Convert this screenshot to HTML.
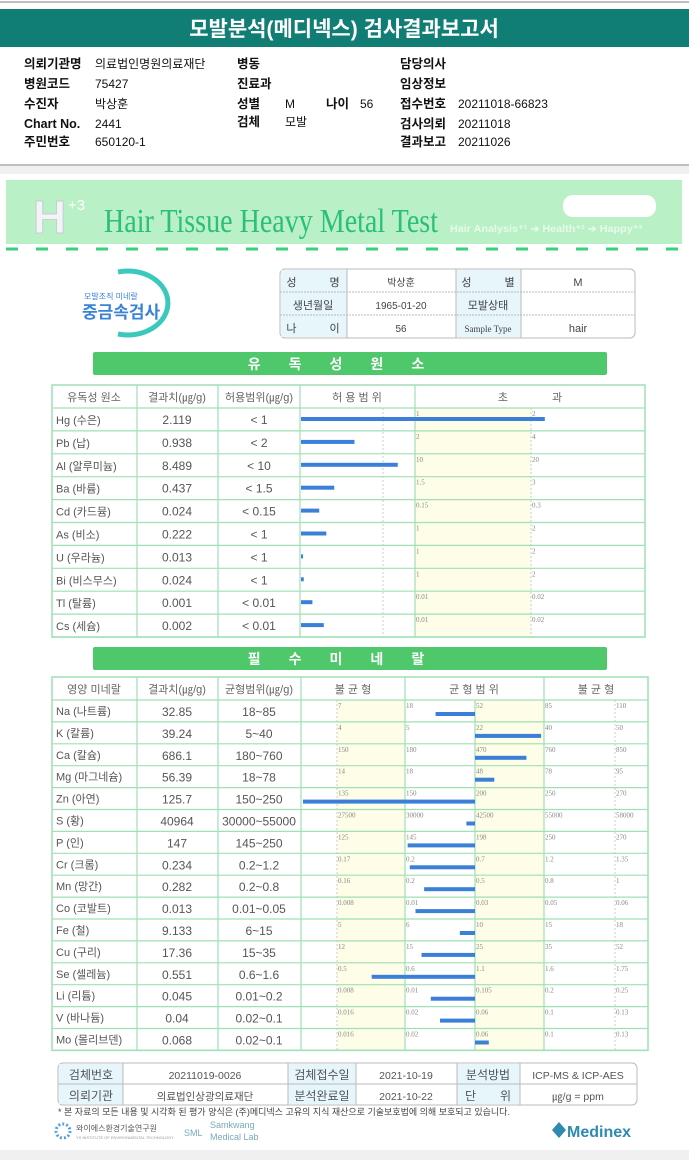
<!DOCTYPE html>
<html><head><meta charset="utf-8">
<style>
body{margin:0;width:689px;height:1160px;overflow:hidden;background:#fff;font-family:"Liberation Sans","Noto Sans CJK KR",sans-serif;}
svg{display:block}
</style></head>
<body>
<svg id="page" width="689" height="1160" viewBox="0 0 689 1160" xmlns="http://www.w3.org/2000/svg" font-family="Liberation Sans, Noto Sans CJK KR, sans-serif">
<rect x="0" y="0" width="689" height="1160" fill="#fff"/>
<line x1="0" y1="2" x2="689" y2="2" stroke="#aaa" stroke-width="1.5"/>
<rect x="0" y="9" width="689" height="38" fill="#117e75"/>
<text x="344" y="36" text-anchor="middle" fill="#fff" font-size="21" font-weight="bold">모발분석(메디넥스) 검사결과보고서</text>
<g font-size="12.5" fill="#111">
<g font-weight="bold">
<text x="24" y="68">의뢰기관명</text><text x="24" y="88">병원코드</text><text x="24" y="108">수진자</text><text x="24" y="128">Chart No.</text><text x="24" y="146">주민번호</text>
<text x="237" y="68">병동</text><text x="237" y="88">진료과</text><text x="237" y="108">성별</text><text x="237" y="126">검체</text><text x="326" y="108">나이</text>
<text x="400" y="68">담당의사</text><text x="400" y="88">임상정보</text><text x="400" y="108">접수번호</text><text x="400" y="128">검사의뢰</text><text x="400" y="146">결과보고</text>
</g>
<g font-size="12">
<text x="95" y="68">의료법인명원의료재단</text><text x="95" y="88">75427</text><text x="95" y="108">박상훈</text><text x="95" y="128">2441</text><text x="95" y="146">650120-1</text>
<text x="285" y="108">M</text><text x="285" y="126">모발</text><text x="360" y="108">56</text>
<text x="458" y="108">20211018-66823</text><text x="458" y="128">20211018</text><text x="458" y="146">20211026</text>
</g></g>
<line x1="0" y1="165" x2="689" y2="165" stroke="#aaa" stroke-width="1.5"/>
<rect x="0" y="166" width="689" height="8" fill="#f0f0f0"/>

<rect x="6" y="180" width="676" height="64" fill="#b9f0c6"/>
<line x1="6" y1="249" x2="682" y2="249" stroke="#3bd07a" stroke-width="3" stroke-dasharray="12,18"/>
<text x="33" y="233" font-size="46" font-weight="bold" fill="#f2f4f8" stroke="#c8ccd4" stroke-width="1">H</text>
<text x="68" y="210" font-size="15" fill="#fff">+3</text>
<text x="104" y="232" font-family="Liberation Serif, serif" font-size="34" fill="#2bbf79" textLength="334" lengthAdjust="spacingAndGlyphs">Hair Tissue Heavy Metal Test</text>
<text x="450" y="232" font-size="10" font-weight="bold" fill="#e6fbea" textLength="192" lengthAdjust="spacingAndGlyphs">Hair Analysis⁺¹ ➔ Health⁺² ➔ Happy⁺³</text>
<rect x="563" y="195" width="93" height="22" rx="10" fill="#fff"/>

<g>
<path d="M120,272 A40,32 0 1 1 120,334" fill="none" stroke="#3cc9bd" stroke-width="5" transform="translate(-2,0)"/>
<text x="84" y="299" font-size="8" fill="#3a83d8">모발조직 미네랄</text>
<text x="82" y="318" font-size="17" font-weight="bold" fill="#3a83d8">중금속검사</text>
</g>

<g id="ptable"></g>

<rect x="93" y="352" width="514" height="23" rx="2" fill="#4fc86b"/>
<text x="350" y="369" text-anchor="middle" font-size="14" font-weight="bold" fill="#fff" letter-spacing="28">유독성원소</text>
<g id="tox"></g>

<rect x="93" y="647" width="514" height="23" rx="2" fill="#4fc86b"/>
<text x="350" y="664" text-anchor="middle" font-size="14" font-weight="bold" fill="#fff" letter-spacing="28">필수미네랄</text>
<g id="min"></g>

<g id="btable"></g>
<text x="58" y="1115" font-size="9" fill="#444">* 본 자료의 모든 내용 및 시각화 된 평가 양식은 (주)메디넥스 고유의 지식 재산으로 기술보호법에 의해 보호되고 있습니다.</text>
<g>
<circle cx="63" cy="1131" r="7" fill="none" stroke="#5aa0e0" stroke-width="3" stroke-dasharray="2,2"/>
<text x="76" y="1131" font-size="8" fill="#555">와이에스환경기술연구원</text>
<text x="76" y="1139" font-size="4" fill="#999">YS INSTITUTE OF ENVIRONMENTAL TECHNOLOGY</text>
<text x="184" y="1136" font-size="9" fill="#7ab">SML</text>
<text x="210" y="1128" font-size="9" fill="#7ab">Samkwang</text>
<text x="210" y="1140" font-size="9" fill="#7ab">Medical Lab</text>
<path d="M552,1130 l7,-8 l7,8 l-7,8z" fill="#2f8ab0"/>
<text x="567" y="1137" font-size="16" font-weight="bold" fill="#2f8ab0">Medinex</text>
</g>
<rect x="0" y="1150" width="689" height="10" fill="#f0f0f0"/>
</svg>
<script>
// ---------- data ----------
const toxNames = ["Hg (수은)","Pb (납)","Al (알루미늄)","Ba (바륨)","Cd (카드뮴)","As (비소)","U (우라늄)","Bi (비스무스)","Tl (탈륨)","Cs (세슘)"];
const toxValues = [2.119,0.938,8.489,0.437,0.024,0.222,0.013,0.024,0.001,0.002];
const toxRanges = ["< 1","< 2","< 10","< 1.5","< 0.15","< 1","< 1","< 1","< 0.01","< 0.01"];
const toxTick1 = [1,2,10,1.5,0.15,1,1,1,0.01,0.01];
const toxTick2 = [2,4,20,3,0.3,2,2,2,0.02,0.02];
const toxTick1Labels = ["1","2","10","1.5","0.15","1","1","1","0.01","0.01"];
const toxTick2Labels = ["2","4","20","3","0.3","2","2","2","0.02","0.02"];

const minNames = ["Na (나트륨)","K (칼륨)","Ca (칼슘)","Mg (마그네슘)","Zn (아연)","S (황)","P (인)","Cr (크롬)","Mn (망간)","Co (코발트)","Fe (철)","Cu (구리)","Se (셀레늄)","Li (리튬)","V (바나듐)","Mo (몰리브덴)"];
const minValues = [32.85,39.24,686.1,56.39,125.7,40964,147,0.234,0.282,0.013,9.133,17.36,0.551,0.045,0.04,0.068];
const minValueLabels = ["32.85","39.24","686.1","56.39","125.7","40964","147","0.234","0.282","0.013","9.133","17.36","0.551","0.045","0.04","0.068"];
const minRanges = ["18~85","5~40","180~760","18~78","150~250","30000~55000","145~250","0.2~1.2","0.2~0.8","0.01~0.05","6~15","15~35","0.6~1.6","0.01~0.2","0.02~0.1","0.02~0.1"];
const minTicks = [
 [7,18,52,85,110],[4,5,22,40,50],[150,180,470,760,850],[14,18,48,78,95],[135,150,200,250,270],
 [27500,30000,42500,55000,58000],[125,145,198,250,270],[0.17,0.2,0.7,1.2,1.35],[0.16,0.2,0.5,0.8,1],
 [0.008,0.01,0.03,0.05,0.06],[5,6,10,15,18],[12,15,25,35,52],[0.5,0.6,1.1,1.6,1.75],
 [0.008,0.01,0.105,0.2,0.25],[0.016,0.02,0.06,0.1,0.13],[0.016,0.02,0.06,0.1,0.13]];
const minTickLabels = [
 ["7","18","52","85","110"],["4","5","22","40","50"],["150","180","470","760","850"],["14","18","48","78","95"],["135","150","200","250","270"],
 ["27500","30000","42500","55000","58000"],["125","145","198","250","270"],["0.17","0.2","0.7","1.2","1.35"],["0.16","0.2","0.5","0.8","1"],
 ["0.008","0.01","0.03","0.05","0.06"],["5","6","10","15","18"],["12","15","25","35","52"],["0.5","0.6","1.1","1.6","1.75"],
 ["0.008","0.01","0.105","0.2","0.25"],["0.016","0.02","0.06","0.1","0.13"],["0.016","0.02","0.06","0.1","0.13"]];

// ---------- helpers ----------
const NS="http://www.w3.org/2000/svg";
function mk(parent,tag,attrs,txt){const e=document.createElementNS(NS,tag);for(const k in attrs)e.setAttribute(k,attrs[k]);if(txt!==undefined)e.textContent=txt;parent.appendChild(e);return e;}
const GRID="#9fe0b4";

// ---------- patient table ----------
(function(){
 const g=document.getElementById('ptable');
 mk(g,'rect',{x:280,y:269,width:355,height:69,rx:5,fill:'#fff',stroke:'#bbb'});
 const cols=[280,347,456,521,635];
 mk(g,'rect',{x:281,y:270,width:66,height:67,fill:'#e6f6fb'});
 mk(g,'rect',{x:456,y:270,width:65,height:67,fill:'#e6f6fb'});
 [292,315].forEach(y=>mk(g,'line',{x1:280,y1:y,x2:635,y2:y,stroke:'#bbb','stroke-dasharray':'2,1'}));
 cols.slice(1,4).forEach(x=>mk(g,'line',{x1:x,y1:269,x2:x,y2:338,stroke:'#bbb'}));
 const rows=[["성　　　명","박상훈","성　　　별","M"],["생년월일","1965-01-20","모발상태",""],["나　　　이","56","Sample Type","hair"]];
 rows.forEach((r,i)=>{const y=286+i*23;
  let t=mk(g,'text',{x:313,y:y,'text-anchor':'middle','font-size':11,fill:'#444'},r[0]);
  mk(g,'text',{x:401,y:y,'text-anchor':'middle','font-size':10,fill:'#444'},r[1]);
  mk(g,'text',{x:488,y:y,'text-anchor':'middle','font-size':i==2?9:11,fill:'#444','font-family':i==2?'Liberation Serif, serif':'inherit'},r[2]);
  mk(g,'text',{x:578,y:y,'text-anchor':'middle','font-size':11,fill:'#444'},r[3]);
 });
})();

// ---------- toxic chart ----------
(function(){
 const g=document.getElementById('tox');
 const top=385,hh=23,rh=22.9,n=toxNames.length,bottom=top+hh+rh*n;
 const x0=301,x1=415,x2=531,L=52,R=645;
 function xScale(v,t1,t2){return v<=t1? x0+v/t1*(x1-x0) : x1+(v-t1)/(t2-t1)*(x2-x1);}
 mk(g,'rect',{x:x1,y:top+hh,width:x2-x1,height:rh*n,fill:'#fdfde8'});
 mk(g,'rect',{x:L,y:top,width:R-L,height:bottom-top,fill:'none',stroke:GRID,'stroke-width':1.5});
 [137,218,300,415].forEach(x=>mk(g,'line',{x1:x,y1:top,x2:x,y2:bottom,stroke:GRID,'stroke-width':1.2}));
 mk(g,'line',{x1:383,y1:top+hh,x2:383,y2:bottom,stroke:'#ccc','stroke-dasharray':'2,2'});
 mk(g,'line',{x1:x2,y1:top+hh,x2:x2,y2:bottom,stroke:'#ccc','stroke-dasharray':'2,2'});
 for(let i=0;i<=n;i++){const y=top+hh+rh*i;mk(g,'line',{x1:L,y1:y,x2:R,y2:y,stroke:GRID,'stroke-width':1.2});}
 const hy=top+16;
 [["유독성 원소",94],["결과치(㎍/g)",177],["허용범위(㎍/g)",259],["허 용 범 위",357],["초　　　　과",530]].forEach(h=>{
  const t=mk(g,'text',{x:h[1],y:hy,'text-anchor':'middle','font-size':11,fill:'#666'},h[0]);
  });
 for(let i=0;i<n;i++){
  const y=top+hh+rh*i;
  let t=mk(g,'text',{x:56,y:y+16,'font-size':11,fill:'#555'},toxNames[i]);
  
  t=mk(g,'text',{x:177,y:y+16,'text-anchor':'middle','font-size':12,fill:'#555'},toxValues[i].toFixed(3));
  
  mk(g,'text',{x:259,y:y+16,'text-anchor':'middle','font-size':12,fill:'#555'},toxRanges[i]);
  mk(g,'text',{x:x1+1,y:y+8,'font-size':7,fill:'#888','font-family':'Liberation Serif, serif'},toxTick1Labels[i]);
  mk(g,'text',{x:x2+1,y:y+8,'font-size':7,fill:'#888','font-family':'Liberation Serif, serif'},toxTick2Labels[i]);
  const xe=Math.max(xScale(toxValues[i],toxTick1[i],toxTick2[i]),x0+2);
  const b=mk(g,'rect',{x:x0,y:y+9,width:xe-x0,height:4,fill:'#3a7fd8'});
  
  
 }
})();

// ---------- mineral chart ----------
(function(){
 const g=document.getElementById('min');
 const top=677,hh=23,rh=21.9,n=minNames.length,bottom=top+hh+rh*n;
 const L=52,R=648,TX=[337,405,475,544,615],C=475;
 function xScale(v,t){
  let k;
  if(v<=t[0]){k=0;} else if(v>=t[4]){k=3;} else {k=0;while(k<3&&v>t[k+1])k++;}
  const x=TX[k]+(v-t[k])/(t[k+1]-t[k])*(TX[k+1]-TX[k]);
  return Math.max(303,Math.min(R-2,x));
 }
 mk(g,'rect',{x:337,y:top+hh,width:68,height:rh*n,fill:'#fdfde8'});
 mk(g,'rect',{x:475,y:top+hh,width:69,height:rh*n,fill:'#fdfde8'});
 mk(g,'rect',{x:L,y:top,width:R-L,height:bottom-top,fill:'none',stroke:GRID,'stroke-width':1.5});
 [137,218,301,405,544].forEach(x=>mk(g,'line',{x1:x,y1:top,x2:x,y2:bottom,stroke:GRID,'stroke-width':1.2}));
 mk(g,'line',{x1:475,y1:top+hh,x2:475,y2:bottom,stroke:GRID,'stroke-width':1.2});
 [337,615].forEach(x=>mk(g,'line',{x1:x,y1:top+hh,x2:x,y2:bottom,stroke:'#ccc','stroke-dasharray':'2,2'}));
 for(let i=0;i<=n;i++){const y=top+hh+rh*i;mk(g,'line',{x1:L,y1:y,x2:R,y2:y,stroke:GRID,'stroke-width':1.2});}
 const hy=top+16;
 [["영양 미네랄",94],["결과치(㎍/g)",177],["균형범위(㎍/g)",259],["불 균 형",353],["균 형 범 위",474],["불 균 형",596]].forEach(h=>{
  const t=mk(g,'text',{x:h[1],y:hy,'text-anchor':'middle','font-size':11,fill:'#666'},h[0]);
  });
 for(let i=0;i<n;i++){
  const y=top+hh+rh*i;
  let t=mk(g,'text',{x:56,y:y+15,'font-size':11,fill:'#555'},minNames[i]);
  
  t=mk(g,'text',{x:177,y:y+16,'text-anchor':'middle','font-size':12,fill:'#555'},minValueLabels[i]);
  
  mk(g,'text',{x:259,y:y+16,'text-anchor':'middle','font-size':12,fill:'#555'},minRanges[i]);
  for(let k=0;k<5;k++) mk(g,'text',{x:TX[k]+1,y:y+8,'font-size':7,fill:'#888','font-family':'Liberation Serif, serif'},minTickLabels[i][k]);
  const xv=xScale(minValues[i],minTicks[i]);
  const b=mk(g,'rect',{x:Math.min(xv,C),y:y+12,width:Math.max(Math.abs(C-xv),2),height:4,fill:'#3a7fd8'});
  
  
 }
})();

// ---------- bottom info table ----------
(function(){
 const g=document.getElementById('btable');
 mk(g,'rect',{x:58,y:1063,width:579,height:42,rx:5,fill:'#fff',stroke:'#bbb'});
 [[59,64],[288,68],[457,63]].forEach(c=>mk(g,'rect',{x:c[0],y:1064,width:c[1],height:40,fill:'#e6f6fb'}));
 mk(g,'line',{x1:58,y1:1084,x2:637,y2:1084,stroke:'#bbb'});
 [123,288,356,457,520].forEach(x=>mk(g,'line',{x1:x,y1:1063,x2:x,y2:1105,stroke:'#bbb'}));
 const r=[["검체번호","20211019-0026","검체접수일","2021-10-19","분석방법","ICP-MS & ICP-AES"],["의뢰기관","의료법인상광의료재단","분석완료일","2021-10-22","단　　위","㎍/g = ppm"]];
 r.forEach((row,i)=>{const y=1079+i*21;
  [91,205,322,406,488,578].forEach((x,j)=>mk(g,'text',{x:x,y:y,'text-anchor':'middle','font-size':j%2==0?12:10.5,fill:'#555'},row[j]));
 });
})();
</script>
</body></html>
